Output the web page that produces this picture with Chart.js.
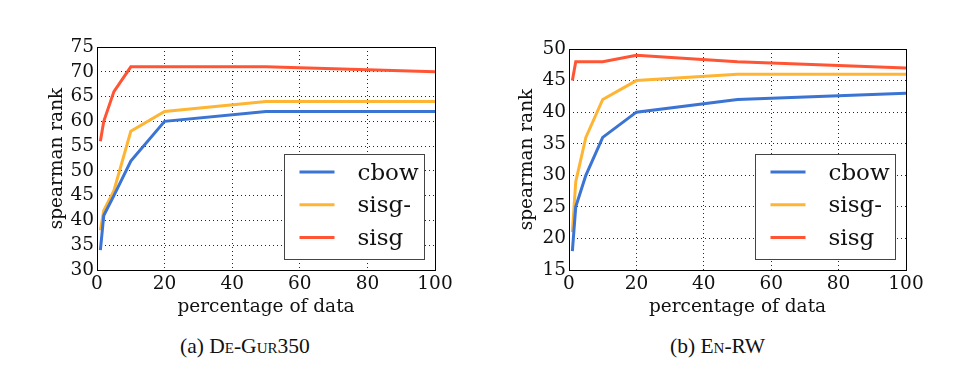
<!DOCTYPE html>
<html>
<head>
<meta charset="utf-8">
<script src="https://cdn.jsdelivr.net/npm/chart.js@4/dist/chart.umd.min.js"></script>
<style>
  body { margin: 0; background: #fff; width: 969px; height: 365px; position: relative; overflow: hidden; }
  .box { position: absolute; }
  .cap { position: absolute; font-family: "Liberation Serif", serif; font-size: 21.5px; color: #111; white-space: nowrap; }
  .sc { font-variant: small-caps; }
</style>
</head>
<body>
<div class="box" style="left:0;top:0;width:470px;height:322px"><canvas id="chartA"></canvas></div>
<div class="box" style="left:480px;top:0;width:470px;height:322px"><canvas id="chartB"></canvas></div>
<div class="cap" id="capA" style="left:180px;top:334px">(a) <span class="sc">De-Gur</span>350</div>
<div class="cap" id="capB" style="left:670px;top:334px">(b) <span class="sc">En-RW</span></div>
<script>
// percentage of training data used
let percents = [1, 2, 5, 10, 20, 50, 100];
let seriesNames = ["cbow", "sisg-", "sisg"];
let seriesColors = ["#3b74d2", "#ffb534", "#ff5535"];

// (a) De-Gur350
let gurCbow = [34, 41, 45, 52, 60, 62, 62];
let gurSisgMinus = [38, 42, 46, 58, 62, 64, 64];
let gurSisg = [56, 60, 66, 71, 71, 71, 70];

// (b) En-RW
let rwCbow = [18, 25, 30, 36, 40, 42, 43];
let rwSisgMinus = [21, 29, 36, 42, 45, 46, 46];
let rwSisg = [45, 48, 48, 48, 49, 48, 47];

let serif = "'DejaVu Serif', serif";
let fontSize = 18.5;

// box around the plot + legend inside the bottom right corner
let frameLegend = {
    id: 'frameLegend',
    afterDatasetsDraw(chart) {
        let ctx = chart.ctx;
        let a = chart.chartArea;
        ctx.save();
        ctx.strokeStyle = "#000";
        ctx.lineWidth = 1;
        ctx.strokeRect(Math.round(a.left) + 0.5, Math.round(a.top) + 0.5,
            Math.round(a.right - a.left), Math.round(a.bottom - a.top));

        let w = 140, h = 105;
        let bx = Math.round(a.right - 11 - w) + 0.5;
        let by = Math.round(a.bottom - 11 - h) + 0.5;
        ctx.fillStyle = "#fff";
        ctx.fillRect(bx, by, w, h);
        ctx.strokeStyle = "#444";
        ctx.strokeRect(bx, by, w, h);

        ctx.font = "23px " + serif;
        ctx.textBaseline = "alphabetic";
        ctx.textAlign = "left";
        chart.data.datasets.forEach(function (ds, i) {
            let y = by + 17.5 + i * 32.8;
            ctx.strokeStyle = ds.borderColor;
            ctx.lineWidth = 3;
            ctx.beginPath();
            ctx.moveTo(bx + 15, y);
            ctx.lineTo(bx + 50, y);
            ctx.stroke();
            ctx.fillStyle = "#111";
            ctx.fillText(ds.label, bx + 73, y + 7.5);
        });
        ctx.restore();
    }
};

function makeChart(id, values, yMin, yMax, yWidth, padLeft, padTop, padRight) {
    let datasets = [];
    for (let i = 0; i < values.length; i++) {
        datasets[i] = {
            label: seriesNames[i],
            data: percents.map(function (p, j) { return { x: p, y: values[i][j] }; }),
            borderColor: seriesColors[i],
            borderWidth: 3,
            pointRadius: 0,
            tension: 0,
            fill: false
        };
    }

    return new Chart(document.getElementById(id), {
        type: 'line',
        data: { datasets: datasets },
        plugins: [frameLegend],
        options: {
            responsive: true,
            maintainAspectRatio: false,
            animation: false,
            layout: { padding: { top: padTop, right: padRight, left: padLeft, bottom: 0 } },
            plugins: {
                legend: { display: false },
                tooltip: { enabled: false }
            },
            scales: {
                x: {
                    type: 'linear',
                    min: 0,
                    max: 100,
                    afterFit: function (s) { s.height = 52; },
                    grid: {
                        color: "rgba(0,0,0,0.85)",
                        lineWidth: 1,
                        drawTicks: false
                    },
                    border: { display: false, dash: [1, 3] },
                    ticks: {
                        stepSize: 20,
                        padding: 3,
                        autoSkip: false,
                        color: "#111",
                        font: { family: serif, size: fontSize },
                        maxRotation: 0
                    },
                    title: {
                        display: true,
                        text: "percentage of data",
                        color: "#111",
                        font: { family: serif, size: fontSize },
                        padding: { top: 0, bottom: 4 }
                    }
                },
                y: {
                    min: yMin,
                    max: yMax,
                    afterFit: function (s) { s.width = yWidth; },
                    grid: {
                        color: "rgba(0,0,0,0.85)",
                        lineWidth: 1,
                        drawTicks: false
                    },
                    border: { display: false, dash: [1, 3] },
                    ticks: {
                        stepSize: 5,
                        padding: 3,
                        autoSkip: false,
                        color: "#111",
                        font: { family: serif, size: fontSize }
                    },
                    title: {
                        display: true,
                        text: "spearman rank",
                        color: "#111",
                        font: { family: serif, size: fontSize },
                        padding: { top: 4, bottom: 0 }
                    }
                }
            }
        }
    });
}

makeChart("chartA", [gurCbow, gurSisgMinus, gurSisg], 30, 75, 55, 42, 47, 35);
makeChart("chartB", [rwCbow, rwSisgMinus, rwSisg], 15, 50, 57, 32, 49, 44);
</script>
</body>
</html>
